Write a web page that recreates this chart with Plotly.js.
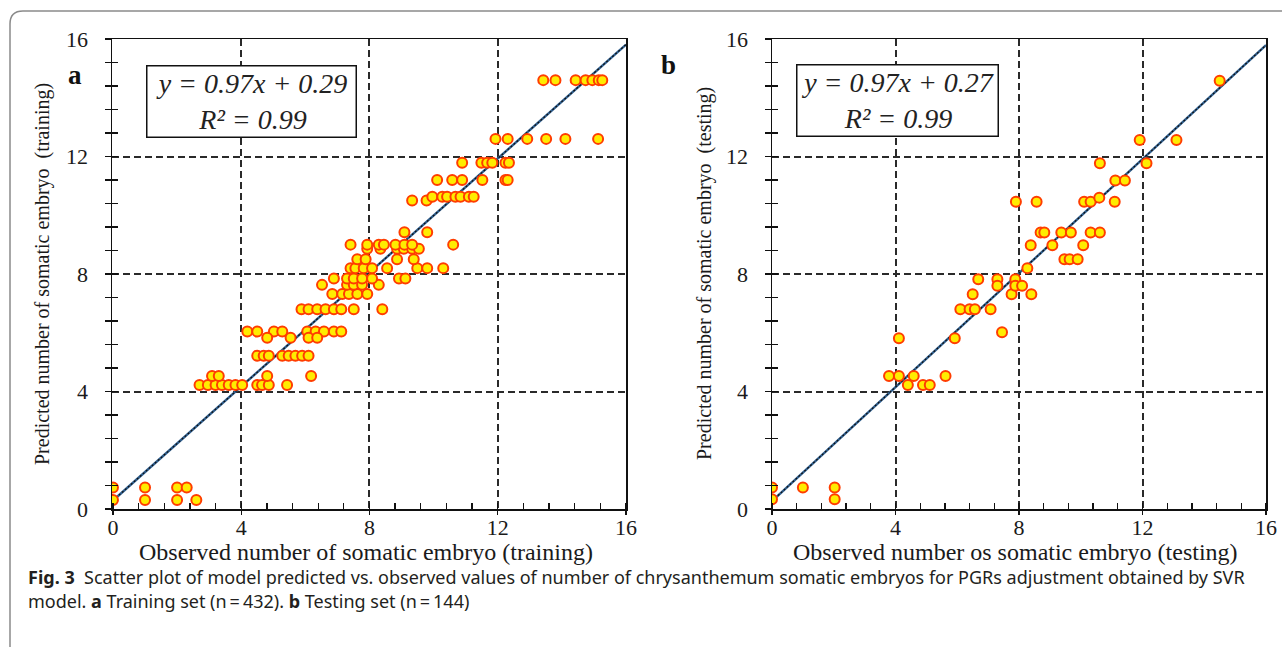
<!DOCTYPE html>
<html><head><meta charset="utf-8">
<script src="https://cdn.plot.ly/plotly-3.0.1.min.js"></script>
<style>html,body{margin:0;padding:0;background:#fff;overflow:hidden}#chart{width:1282px;height:647px}</style>
</head><body><div id="chart"></div>
<script>
// ---- data ----
const trainObserved = [
0,0,1,1,2,2.3,2,2.6,
2.7,2.96,3.2,3.4,3.61,3.82,4.03,4.5,4.65,4.86,5.43,
3.09,3.3,4.81,6.18,
4.5,4.7,4.86,5.28,5.48,5.69,5.9,6.1,
4.19,4.5,5.02,5.28,6.06,6.32,6.58,6.89,7.12,
4.81,5.54,6.1,6.37,
5.88,6.1,6.37,6.63,6.89,7.12,7.51,8.4,
6.84,7.15,7.36,7.62,7.93,
6.52,7.3,7.51,7.77,8.29,
6.89,7.3,7.51,7.77,8.08,8.92,9.12,
7.41,7.56,7.82,8.08,8.55,9.49,9.8,10.3,
7.62,7.88,8.86,9.38,
7.93,8.34,8.86,9.07,9.33,9.54,
7.41,7.93,8.29,8.45,8.81,9.09,9.33,10.61,
9.09,9.8,
9.33,9.78,
9.96,10.27,10.42,10.68,10.84,11.1,11.25,
10.11,10.58,10.89,11.52,12.24,12.31,
10.89,11.49,11.67,11.83,12.24,12.35,
11.93,12.31,12.92,13.51,14.11,15.13,
13.42,13.8,14.43,14.74,14.95,15.15,15.26];
const trainPredicted = [
0.73,0.31,0.73,0.31,0.73,0.73,0.31,0.31,
4.22,4.22,4.22,4.22,4.22,4.22,4.22,4.22,4.22,4.22,4.22,
4.53,4.53,4.53,4.53,
5.22,5.22,5.22,5.22,5.22,5.22,5.22,5.22,
6.04,6.04,6.04,6.04,6.04,6.04,6.04,6.04,6.04,
5.83,5.83,5.83,5.83,
6.8,6.8,6.8,6.8,6.8,6.8,6.8,6.8,
7.32,7.32,7.32,7.32,7.32,
7.63,7.63,7.63,7.63,7.63,
7.85,7.85,7.85,7.85,7.85,7.85,7.85,
8.2,8.2,8.2,8.2,8.2,8.2,8.2,8.2,
8.5,8.5,8.5,8.5,
8.86,8.86,8.86,8.86,8.86,8.86,
9.0,9.0,9.0,9.0,9.0,9.0,9.0,9.0,
9.42,9.42,
10.5,10.5,
10.63,10.63,10.63,10.63,10.63,10.63,10.63,
11.2,11.2,11.2,11.2,11.2,11.2,
11.79,11.79,11.79,11.79,11.79,11.79,
12.6,12.6,12.6,12.6,12.6,12.6,
14.6,14.6,14.6,14.6,14.6,14.6,14.6];

const testObserved = [
0,0,1,2.03,2.03,
3.79,4.11,4.59,5.62,
4.4,4.89,5.11,
4.11,5.92,
6.1,6.4,6.57,7.08,
7.45,
6.5,7.76,8.4,
6.68,7.3,7.88,
7.3,7.88,8.1,
8.27,
9.47,9.64,9.9,
8.38,9.08,10.08,
8.7,8.82,9.37,9.68,10.32,10.62,
7.9,8.57,10.11,10.32,11.1,
10.6,
11.12,11.43,
10.62,12.13,
11.91,13.1,
14.5];
const testPredicted = [
0.73,0.33,0.73,0.73,0.33,
4.53,4.53,4.53,4.53,
4.22,4.22,4.22,
5.81,5.81,
6.8,6.8,6.8,6.8,
6.02,
7.31,7.31,7.31,
7.82,7.82,7.82,
7.6,7.6,7.6,
8.2,
8.5,8.5,8.5,
8.98,8.98,8.98,
9.41,9.41,9.41,9.41,9.41,9.41,
10.46,10.46,10.46,10.46,10.46,
10.6,
11.18,11.18,
11.77,11.77,
12.56,12.56,
14.58];

const fitSlope = [0.97, 0.97];
const fitIntercept = [0.29, 0.27];
const fitRangeX = [0, 16];
const panelLetters = ['a', 'b'];
const xTitles = ['Observed number of somatic embryo (training)', 'Observed number os somatic embryo (testing)'];
const yTitles = ['Predicted number of somatic embryo\u00a0 (training)', 'Predicted number of somatic embryo\u00a0 (testing)'];
const captionLine1 = '<b>Fig. 3</b>\u00a0\u00a0Scatter plot of model predicted vs. observed values of number of chrysanthemum somatic embryos for PGRs adjustment obtained by SVR';
const captionLine2 = 'model. <b>a</b> Training set (n\u2009=\u2009432). <b>b</b> Testing set (n\u2009=\u2009144)';

// ---- build ----
const W = 1282, H = 647;
const px = v => v / W, py = v => 1 - v / H;
const serif = 'Liberation Serif, Times New Roman, serif';
const ink = '#1a1a1a';

const marker = {size: 10, color: '#ffec00', line: {color: '#ff3d00', width: 2}};
function fitLine(i) {
  return fitRangeX.map(x => fitSlope[i] * x + fitIntercept[i]);
}
const traces = [];
[['x','y'],['x2','y2']].forEach((ax, i) => {
  traces.push({x: fitRangeX, y: fitLine(i), xaxis: ax[0], yaxis: ax[1], mode: 'lines',
    line: {color: '#2f5f8f', width: 2.4}, hoverinfo: 'skip'});
  traces.push({x: fitRangeX, y: fitLine(i), xaxis: ax[0], yaxis: ax[1], mode: 'lines',
    line: {color: '#111', width: 1.2, dash: '2px,2px'}, hoverinfo: 'skip'});
});
traces.push({x: trainObserved, y: trainPredicted, xaxis: 'x', yaxis: 'y', mode: 'markers', marker: marker});
traces.push({x: testObserved, y: testPredicted, xaxis: 'x2', yaxis: 'y2', mode: 'markers', marker: marker});
// overlay axes only carry the inner half of the cross ticks
traces.push({x: [null], y: [null], xaxis: 'x', yaxis: 'y3', mode: 'markers', hoverinfo: 'skip'});
traces.push({x: [null], y: [null], xaxis: 'x2', yaxis: 'y4', mode: 'markers', hoverinfo: 'skip'});

const tickfont = {family: serif, size: 22, color: ink};
function xAxis(dom, yref) {
  return {domain: dom, anchor: yref, range: [-0.02, 16], tickmode: 'linear', tick0: 0, dtick: 4,
    showline: true, linecolor: '#111', linewidth: 1.5, mirror: true,
    ticks: 'outside', ticklen: 4, tickwidth: 1.3, tickcolor: '#111',
    showgrid: true, gridcolor: '#2a2a2a', gridwidth: 2, griddash: '7px,4px', zeroline: false,
    minor: {tick0: 0, dtick: 0.8, ticks: 'inside', ticklen: 6, tickwidth: 1.3, tickcolor: '#111', showgrid: false},
    tickfont: tickfont, ticklabelstandoff: -6, fixedrange: true};
}
function yAxis(xref) {
  return {domain: [py(509), py(39)], anchor: xref, range: [0, 16], tickmode: 'linear', tick0: 0, dtick: 4,
    showline: true, linecolor: '#111', linewidth: 1.5, mirror: true,
    ticks: 'outside', ticklen: 6, tickwidth: 1.3, tickcolor: '#111',
    showgrid: true, gridcolor: '#2a2a2a', gridwidth: 2, griddash: '7px,4px', zeroline: false,
    minor: {tick0: 0, dtick: 0.8, ticks: 'outside', ticklen: 6, tickwidth: 1.3, tickcolor: '#111', showgrid: false},
    tickfont: tickfont, ticklabelstandoff: 12, fixedrange: true};
}
function yOverlay(over, xref) {
  return {overlaying: over, anchor: xref, side: 'left', range: [0, 16], tickmode: 'linear', tick0: 0, dtick: 4,
    showline: false, ticks: 'inside', ticklen: 6, tickwidth: 1.3, tickcolor: '#111',
    showgrid: false, zeroline: false, showticklabels: false,
    minor: {tick0: 0, dtick: 0.8, ticks: 'inside', ticklen: 6, tickwidth: 1.3, tickcolor: '#111', showgrid: false},
    fixedrange: true};
}

const annotations = [];
const panels = [
  {yTitleX: 42, xTitleX: 366, letter: [75, 75], eq: [251, 102, 204]},
  {yTitleX: 704, xTitleX: 1015, letter: [668, 65], eq: [897, 100, 196]}
];
panels.forEach((p, i) => {
  annotations.push({xref: 'paper', yref: 'paper', x: px(p.yTitleX), y: py(274), text: yTitles[i], textangle: -90,
    showarrow: false, xanchor: 'center', yanchor: 'middle', font: {family: serif, size: 20, color: ink}});
  annotations.push({xref: 'paper', yref: 'paper', x: px(p.xTitleX), y: py(552), text: xTitles[i],
    showarrow: false, xanchor: 'center', yanchor: 'middle', font: {family: serif, size: 24, color: ink}});
  annotations.push({xref: 'paper', yref: 'paper', x: px(p.letter[0]), y: py(p.letter[1]), text: '<b>' + panelLetters[i] + '</b>',
    showarrow: false, xanchor: 'center', yanchor: 'middle', font: {family: serif, size: 27, color: '#111'}});
  annotations.push({xref: 'paper', yref: 'paper', x: px(p.eq[0]), y: py(p.eq[1]),
    text: '<i>y = ' + fitSlope[i].toFixed(2) + 'x + ' + fitIntercept[i].toFixed(2) + '</i><br><i>R² = 0.99</i>',
    showarrow: false, xanchor: 'center', yanchor: 'middle', align: 'center',
    width: p.eq[2], height: 66, borderpad: 2,
    bordercolor: '#111', borderwidth: 1.5, bgcolor: '#fff',
    font: {family: serif, size: 28, color: '#222'}});
});
annotations.push({xref: 'paper', yref: 'paper', x: px(26), y: py(577), text: captionLine1, showarrow: false,
  xanchor: 'left', yanchor: 'middle', font: {family: 'Noto Sans, Open Sans, sans-serif', size: 18, color: '#231f20'}});
annotations.push({xref: 'paper', yref: 'paper', x: px(26), y: py(601), text: captionLine2, showarrow: false,
  xanchor: 'left', yanchor: 'middle', font: {family: 'Noto Sans, Open Sans, sans-serif', size: 18, color: '#231f20'}});

const layout = {
  width: W, height: H, margin: {l: 0, r: 0, t: 0, b: 0}, showlegend: false,
  paper_bgcolor: '#fff', plot_bgcolor: 'rgba(0,0,0,0)',
  xaxis: xAxis([px(112), px(626)], 'y'),
  yaxis: yAxis('x'),
  xaxis2: xAxis([px(772), px(1266)], 'y2'),
  yaxis2: yAxis('x2'),
  yaxis3: yOverlay('y', 'x'),
  yaxis4: yOverlay('y2', 'x2'),
  annotations: annotations,
  shapes: [{type: 'path', xref: 'paper', yref: 'paper',
    path: 'M ' + px(10) + ' 0 L ' + px(10) + ' ' + py(24) + ' Q ' + px(10) + ' ' + py(11) + ' ' + px(23) + ' ' + py(11) + ' L 1 ' + py(11),
    line: {color: '#8a8a8a', width: 1.5}}]
};
layout.xaxis.range = [-0.03, 16];
layout.xaxis2.range = [0, 16];

Plotly.newPlot('chart', traces, layout, {displayModeBar: false, staticPlot: true});
</script></body></html>
